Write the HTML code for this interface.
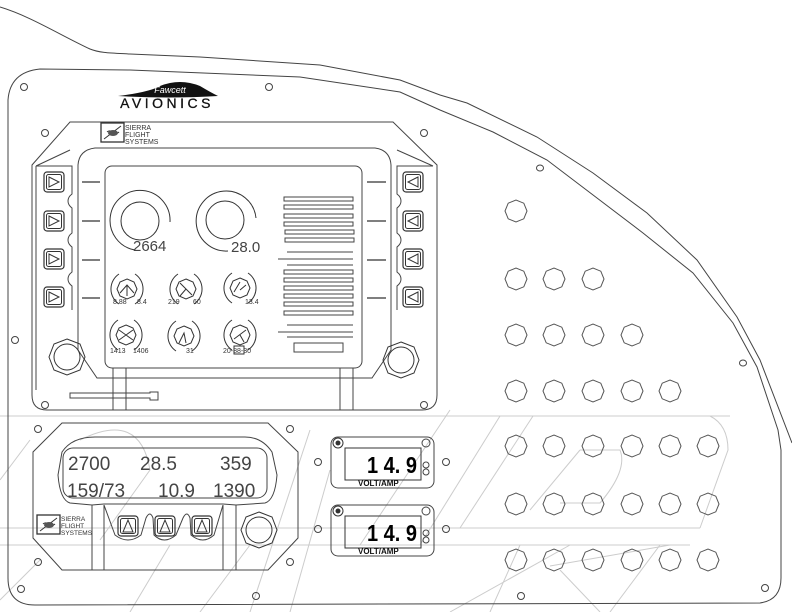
<!DOCTYPE html>
<html><head><meta charset="utf-8"><style>
html,body{margin:0;padding:0;background:#fff;}
svg{display:block;}
text{font-family:"Liberation Sans",sans-serif;}
</style></head><body>
<svg width="792" height="612" viewBox="0 0 792 612" xmlns="http://www.w3.org/2000/svg">
<defs>
<polygon id="oct" points="11,0 7.8,7.8 0,11 -7.8,7.8 -11,0 -7.8,-7.8 0,-11 7.8,-7.8" fill="none" stroke="#555" stroke-width="1"/>
<g id="lbtn"><rect x="-10" y="-10" width="20" height="20" rx="3" fill="none" stroke="#333" stroke-width="1.2"/><rect x="-7.5" y="-7.5" width="15" height="15" rx="2" fill="none" stroke="#333"/><path d="M-5,-5 L5,0 L-5,5 Z" fill="none" stroke="#333"/></g>
<g id="rbtn"><rect x="-10" y="-10" width="20" height="20" rx="3" fill="none" stroke="#333" stroke-width="1.2"/><rect x="-7.5" y="-7.5" width="15" height="15" rx="2" fill="none" stroke="#333"/><path d="M5,-5 L-5,0 L5,5 Z" fill="none" stroke="#333"/></g>
<g id="ubtn"><rect x="-10" y="-10" width="20" height="20" rx="3" fill="none" stroke="#333" stroke-width="1.2"/><rect x="-7.5" y="-7.5" width="15" height="15" rx="2" fill="none" stroke="#333"/><path d="M-5,6 L0,-6 L5,6 Z" fill="none" stroke="#333"/></g>
<g id="sg"><path d="M-8,-15 A18,18 0 0 0 -8,15" fill="none" stroke="#333"/><path d="M8,-15 A18,18 0 0 1 8,15" fill="none" stroke="#333"/><polygon points="0,-10 7,-7 10,0 7,7 0,10 -7,7 -10,0 -7,-7" fill="none" stroke="#333"/></g>
<g id="knob"><polygon points="0,-18 13,-13 18,0 13,13 0,18 -13,13 -18,0 -13,-13" fill="none" stroke="#333"/><circle r="13" fill="none" stroke="#333"/></g>
<g id="sfs"><rect x="0" y="0" width="23" height="19" fill="none" stroke="#333" stroke-width="1.3"/><path d="M3,16 L20,3 M6,9 C10,5 14,13 18,9" stroke="#333" fill="none"/><ellipse cx="12" cy="10" rx="5" ry="3" fill="#555"/></g>
</defs>
<g fill="none" stroke="#ccc" stroke-width="1">
<path d="M0,416 L730,416"/><path d="M0,528 L700,528"/><path d="M0,545 L690,545"/>
<path d="M580,416 L710,416 Q728,425 728,450 L700,528"/>
<path d="M533,416 L460,528"/><path d="M500,416 L420,545"/><path d="M450,410 L360,545"/>
<path d="M580,450 L620,450 Q628,470 600,503 L560,503"/><path d="M580,450 L530,510"/>
<path d="M30,440 L0,480"/><path d="M80,440 Q140,410 150,470 L100,540"/><path d="M310,430 L250,612"/>
<path d="M250,545 L200,612"/><path d="M520,545 L490,612"/><path d="M560,570 L600,612"/><path d="M550,566 L670,545"/>
<path d="M330,470 L290,612"/><path d="M570,545 L450,612"/><path d="M660,545 L610,612"/>
<path d="M40,560 L0,600"/><path d="M170,545 L130,612"/>
</g>
<g fill="none" stroke="#444" stroke-width="1">
<path d="M0,7 C30,16 60,35 90,49 C100,53 110,53 130,54 L200,57 L320,65 L400,80 L440,95 L467,103 L537,137 L593,173 L647,213 L697,260 L737,317 L760,360 L792,443"/>
<path d="M40,69 L130,70 L300,77 L400,92 L440,110 L493,132 L547,160 L643,233 L693,273 L733,323 L757,367 L778,430 L781,450 L781,578 Q781,600 760,603 L35,605 Q8,605 8,578 L8,100 Q10,72 40,69 Z"/>
</g>
<g fill="none" stroke="#444" stroke-width="1">
<circle cx="24" cy="87" r="3.5"/><circle cx="269" cy="87" r="3.5"/><circle cx="45" cy="133" r="3.5"/><circle cx="424" cy="133" r="3.5"/>
<circle cx="15" cy="340" r="3.5"/><ellipse cx="540" cy="168" rx="3.5" ry="3"/><ellipse cx="743" cy="363" rx="3.5" ry="3"/>
<circle cx="45" cy="405" r="3.5"/><circle cx="424" cy="405" r="3.5"/><circle cx="38" cy="429" r="3.5"/><circle cx="290" cy="429" r="3.5"/>
<circle cx="38" cy="562" r="3.5"/><circle cx="290" cy="562" r="3.5"/><circle cx="21" cy="589" r="3.5"/><circle cx="256" cy="596" r="3.5"/>
<circle cx="521" cy="596" r="3.5"/><circle cx="765" cy="588" r="3.5"/><circle cx="318" cy="462" r="3.5"/><circle cx="446" cy="462" r="3.5"/>
<circle cx="318" cy="529" r="3.5"/><circle cx="446" cy="529" r="3.5"/>
</g>
<use href="#oct" x="516" y="211"/>
<use href="#oct" x="516" y="279"/><use href="#oct" x="554" y="279"/><use href="#oct" x="593" y="279"/>
<use href="#oct" x="516" y="335"/><use href="#oct" x="554" y="335"/><use href="#oct" x="593" y="335"/><use href="#oct" x="632" y="335"/>
<use href="#oct" x="516" y="391"/><use href="#oct" x="554" y="391"/><use href="#oct" x="593" y="391"/><use href="#oct" x="632" y="391"/><use href="#oct" x="670" y="391"/>
<use href="#oct" x="516" y="446"/><use href="#oct" x="554" y="446"/><use href="#oct" x="593" y="446"/><use href="#oct" x="632" y="446"/><use href="#oct" x="670" y="446"/><use href="#oct" x="708" y="446"/>
<use href="#oct" x="516" y="504"/><use href="#oct" x="554" y="504"/><use href="#oct" x="593" y="504"/><use href="#oct" x="632" y="504"/><use href="#oct" x="670" y="504"/><use href="#oct" x="708" y="504"/>
<use href="#oct" x="516" y="560"/><use href="#oct" x="554" y="560"/><use href="#oct" x="593" y="560"/><use href="#oct" x="632" y="560"/><use href="#oct" x="670" y="560"/><use href="#oct" x="708" y="560"/>
<path d="M118,96 Q150,92 160,86 Q180,78 200,86 Q210,92 218,96 Q170,99 118,96 Z" fill="#111"/>
<text x="170" y="93" font-size="9" font-style="italic" fill="#fff" text-anchor="middle" font-family="Liberation Serif">Fawcett</text>
<text x="167" y="108" font-size="14" text-anchor="middle" letter-spacing="3.5" fill="#111" stroke="#111" stroke-width="0.3">AVIONICS</text>
<g fill="none" stroke="#444" stroke-width="1">
<path d="M70,122 L393,122 L437,165 L437,395 Q437,410 422,410 L47,410 Q32,410 32,395 L32,165 Z"/>
<path d="M36,166 L36,390"/>
<path d="M36,166 L72,166 L72,194 Q68,197 68,201 Q68,205 72,208 L72,233 Q68,236 68,240 Q68,244 72,247 L72,272 Q68,275 68,279 Q68,283 72,286 L72,310"/>
<path d="M433,166 L397,166 L397,194 Q401,197 401,201 Q401,205 397,208 L397,233 Q401,236 401,240 Q401,244 397,247 L397,272 Q401,275 401,279 Q401,283 397,286 L397,310"/>
<path d="M36,166 L70,150"/><path d="M433,166 L397,150"/>
<path d="M95,148 L375,148 Q390,150 391,165 L391,350 L372,378 L97,378 L78,350 L78,165 Q79,150 95,148 Z"/>
<rect x="105" y="166" width="257" height="202" rx="7"/>
<path d="M113,368 L113,410 M126,368 L126,410 M340,368 L340,410 M353,368 L353,410"/>
<path d="M70,393 L150,393 L150,392 L158,392 L158,400 L150,400 L150,398 L70,398 Z"/>
</g>
<use href="#sfs" x="101" y="123"/>
<text x="125" y="130" font-size="7" fill="#333">SIERRA</text>
<text x="125" y="137" font-size="7" fill="#333">FLIGHT</text>
<text x="125" y="144" font-size="7" fill="#333">SYSTEMS</text>
<use href="#lbtn" x="54" y="182"/><use href="#lbtn" x="54" y="221"/><use href="#lbtn" x="54" y="259"/><use href="#lbtn" x="54" y="297"/>
<use href="#rbtn" x="413" y="182"/><use href="#rbtn" x="413" y="221"/><use href="#rbtn" x="413" y="259"/><use href="#rbtn" x="413" y="297"/>
<g stroke="#333" stroke-width="1.3">
<path d="M82,182 L100,182 M82,221 L100,221 M82,260 L100,260 M82,298 L100,298"/>
<path d="M367,182 L386,182 M367,221 L386,221 M367,260 L386,260 M367,298 L386,298"/>
</g>
<use href="#knob" x="67" y="357"/><use href="#knob" x="401" y="360"/>
<g fill="none" stroke="#333" stroke-width="1">
<circle cx="140" cy="221" r="19"/><path d="M170,222 A30,30 0 1 0 135,250"/>
<circle cx="225" cy="220" r="19"/><path d="M256,218 A30,30 0 1 0 228,251"/>
</g>
<text x="133" y="251" font-size="15" fill="#444">2664</text>
<text x="231" y="252" font-size="15" fill="#444">28.0</text>
<use href="#sg" x="127" y="289"/><use href="#sg" x="186" y="289"/><use href="#sg" x="240" y="288"/>
<use href="#sg" x="126" y="335"/><use href="#sg" x="184" y="336"/><use href="#sg" x="240" y="335"/>
<g stroke="#333" fill="none"><path d="M120,293 L127,285 L134,293 M127,285 L127,296"/><path d="M180,283 L192,295 M186,289 L180,296"/><path d="M234,292 L240,282 M240,290 L246,285"/>
<path d="M119,330 L133,340 M119,340 L133,330"/><path d="M179,343 L184,333 L186,343"/><path d="M234,339 L246,330 M240,335 L244,342"/></g>
<g font-size="7" fill="#333">
<text x="113" y="304">8.88</text><text x="137" y="304">8.4</text>
<text x="168" y="304">219</text><text x="193" y="304">60</text>
<text x="245" y="304">13.4</text>
<text x="110" y="353">1413</text><text x="133" y="353">1406</text>
<text x="186" y="353">31</text>
<text x="223" y="353">20-88-30</text>
</g>
<rect x="234" y="346" width="10" height="8" fill="none" stroke="#333"/>
<g fill="none" stroke="#444" stroke-width="1">
<rect x="284" y="197" width="69" height="4"/><rect x="284" y="205" width="69" height="4"/><rect x="284" y="214" width="69" height="4"/>
<rect x="284" y="222" width="69" height="4"/><rect x="285" y="230" width="69" height="4"/><rect x="285" y="238" width="69" height="4"/>
<path d="M287,252 L353,252 M278,259 L353,259 M287,265 L353,265"/>
<rect x="284" y="270" width="69" height="4"/><rect x="284" y="278" width="69" height="4"/><rect x="284" y="286" width="69" height="4"/>
<rect x="284" y="294" width="69" height="4"/><rect x="284" y="302" width="69" height="4"/><rect x="284" y="311" width="69" height="4"/>
<path d="M287,325 L353,325 M278,332 L353,332 M287,337 L353,337"/>
<rect x="294" y="343" width="49" height="9"/>
</g>
<g fill="none" stroke="#444" stroke-width="1">
<path d="M62,423 L268,423 L298,452 L298,538 L268,570 L62,570 L33,538 L33,452 Z"/>
<path d="M95,437 L245,437 Q262,437 272,452 L277,475 Q275,500 265,503 L236,505 L223,504 L104,504 L92,505 L70,503 Q60,500 58,475 L62,452 Q72,437 95,437 Z"/>
<rect x="63" y="448" width="204" height="50" rx="10"/>
<path d="M92,505 L92,570 M104,505 L104,570 M223,505 L223,570 M236,505 L236,570"/>
<path d="M104,505 L115,535 Q128,545 141,535 L146,518 Q150,510 153,518 L154,535 Q164,545 176,535 L183,518 Q187,510 190,518 L191,535 Q203,545 214,535 L223,505"/>
</g>
<g font-size="19" fill="#444">
<text x="68" y="470">2700</text><text x="140" y="470">28.5</text><text x="220" y="470">359</text>
<text x="67" y="497">159/73</text><text x="158" y="497">10.9</text><text x="213" y="497">1390</text>
</g>
<use href="#ubtn" x="128" y="526"/><use href="#ubtn" x="165" y="526"/><use href="#ubtn" x="202" y="526"/>
<use href="#knob" x="259" y="530"/>
<use href="#sfs" x="37" y="515"/>
<text x="61" y="521" font-size="6.5" fill="#333">SIERRA</text>
<text x="61" y="528" font-size="6.5" fill="#333">FLIGHT</text>
<text x="61" y="535" font-size="6.5" fill="#333">SYSTEMS</text>
<g id="va">
<rect x="331" y="437" width="103" height="51" rx="7" fill="none" stroke="#444"/>
<rect x="345" y="448" width="76" height="32" fill="none" stroke="#333"/>
<circle cx="338" cy="443" r="5" fill="none" stroke="#333"/><circle cx="338" cy="443" r="2.5" fill="#333"/>
<circle cx="426" cy="443" r="4" fill="none" stroke="#444"/><circle cx="426" cy="465" r="3" fill="none" stroke="#444"/><circle cx="426" cy="472" r="3" fill="none" stroke="#444"/>
<text x="367" y="473" font-size="23" font-weight="bold" fill="#000" textLength="50" lengthAdjust="spacingAndGlyphs">1 4. 9</text>
<text x="358" y="486" font-size="8" font-weight="bold" fill="#111">VOLT/AMP</text>
</g>
<use href="#va" x="0" y="68"/>
</svg>
</body></html>
